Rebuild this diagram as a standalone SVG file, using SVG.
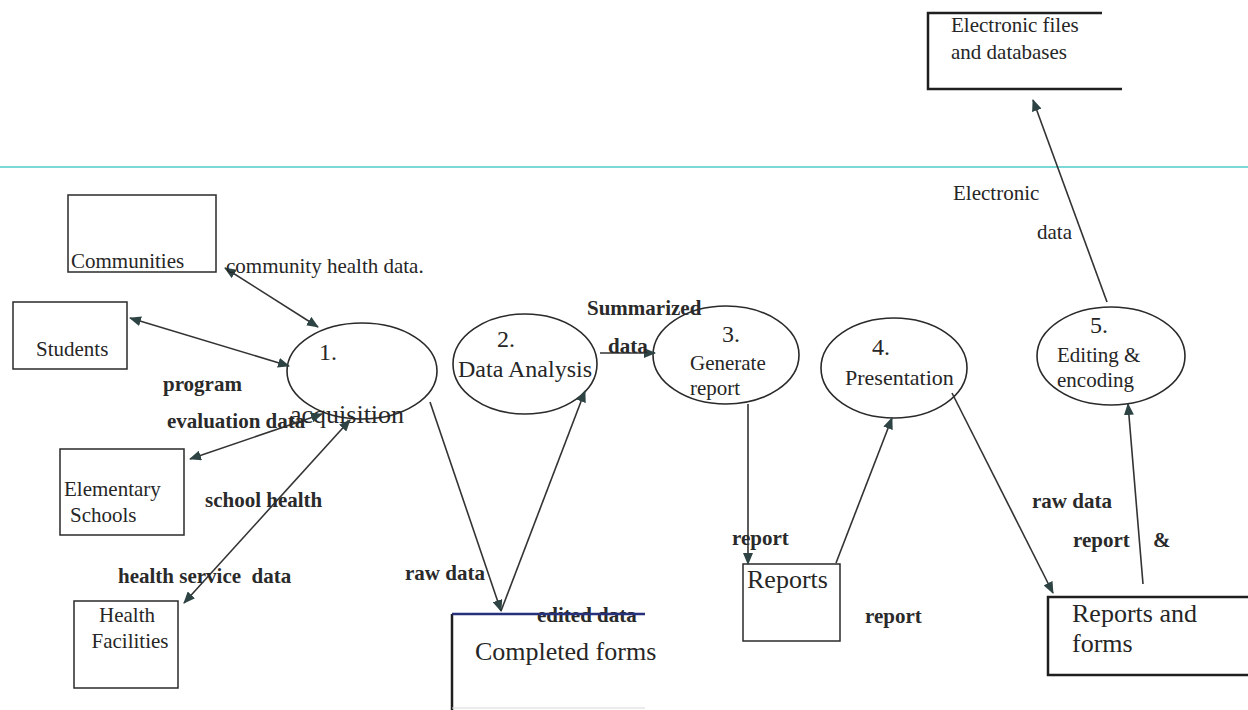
<svg xmlns="http://www.w3.org/2000/svg" width="1248" height="710" viewBox="0 0 1248 710">
  <style>
    .box { fill: none; stroke: #2a2a2a; stroke-width: 1.5; }
    .proc { fill: none; stroke: #2a2a2a; stroke-width: 1.6; }
    text { font-family: 'Liberation Serif', 'DejaVu Serif', serif; }
    .t { font-weight: normal; fill: #262626; }
    .lbl { font-weight: bold; font-size: 21px; fill: #2a2a2a; }
    .flow { fill: none; stroke: #333; stroke-width: 1.6; }
  </style>
  <defs>
    <marker id="ah" viewBox="0 0 12 10" refX="11" refY="5" markerWidth="12" markerHeight="10" markerUnits="userSpaceOnUse" orient="auto-start-reverse">
      <path d="M0,0 L12,5 L0,10 Z" fill="#2e4444"/>
    </marker>
  </defs>

  <rect width="1248" height="710" fill="#ffffff"/>

  <!-- page divider -->
  <line x1="0" y1="167" x2="1248" y2="167" stroke="#7ad9d6" stroke-width="2"/>

  <!-- external entities -->
  <g id="communities">
    <rect class="box" x="68" y="195" width="148" height="77"/>
    <text class="t" x="71" y="268" font-size="21">Communities</text>
  </g>
  <g id="students">
    <rect class="box" x="13" y="302" width="114" height="67"/>
    <text class="t" x="36" y="356" font-size="21">Students</text>
  </g>
  <g id="elementary-schools">
    <rect class="box" x="60" y="449" width="124" height="86"/>
    <text class="t" x="64" y="496" font-size="21">Elementary</text>
    <text class="t" x="70" y="522" font-size="21">Schools</text>
  </g>
  <g id="health-facilities">
    <rect class="box" x="74" y="601" width="104" height="87"/>
    <text class="t" x="127" y="622" font-size="21" text-anchor="middle">Health</text>
    <text class="t" x="130" y="648" font-size="21" text-anchor="middle">Facilities</text>
  </g>

  <!-- processes -->
  <g id="p1-acquisition">
    <ellipse class="proc" cx="362" cy="371" rx="75" ry="48"/>
    <text class="t" x="319" y="360" font-size="24">1.</text>
    <text class="t" x="290" y="423" font-size="26">acquisition</text>
  </g>
  <g id="p2-data-analysis">
    <ellipse class="proc" cx="525" cy="364" rx="72" ry="50"/>
    <text class="t" x="497" y="347" font-size="24">2.</text>
    <text class="t" x="458" y="377" font-size="24">Data Analysis</text>
  </g>
  <g id="p3-generate-report">
    <ellipse class="proc" cx="726" cy="355" rx="73" ry="49"/>
    <text class="t" x="722" y="342" font-size="24">3.</text>
    <text class="t" x="690" y="370" font-size="21">Generate</text>
    <text class="t" x="690" y="395" font-size="21">report</text>
  </g>
  <g id="p4-presentation">
    <ellipse class="proc" cx="894" cy="368" rx="73" ry="50"/>
    <text class="t" x="872" y="355" font-size="24">4.</text>
    <text class="t" x="845" y="385" font-size="22">Presentation</text>
  </g>
  <g id="p5-editing-encoding">
    <ellipse class="proc" cx="1111" cy="356" rx="74" ry="49"/>
    <text class="t" x="1090" y="333" font-size="24">5.</text>
    <text class="t" x="1057" y="362" font-size="21">Editing &amp;</text>
    <text class="t" x="1057" y="387" font-size="21">encoding</text>
  </g>

  <!-- data stores -->
  <g id="store-completed-forms">
    <path d="M452,614 L452,710" stroke="#1f1f1f" stroke-width="2.5" fill="none"/>
    <path d="M452,708 L645,708" stroke="#d8d8d8" stroke-width="1" fill="none"/>
    <text class="lbl" x="537" y="622">edited data</text>
    <path d="M452,614 L645,614" stroke="#27307a" stroke-width="2.5" fill="none"/>
    <text class="t" x="475" y="660" font-size="26">Completed forms</text>
  </g>
  <g id="store-reports">
    <rect class="box" x="743" y="564" width="97" height="77"/>
    <text class="t" x="747" y="588" font-size="26">Reports</text>
  </g>
  <g id="store-reports-forms">
    <path d="M1248,597 L1048,597 L1048,675 L1248,675" stroke="#1f1f1f" stroke-width="2.5" fill="none"/>
    <text class="t" x="1072" y="622" font-size="26">Reports and</text>
    <text class="t" x="1072" y="652" font-size="26">forms</text>
  </g>
  <g id="store-electronic">
    <path d="M1102,13 L928,13 L928,89 L1122,89" stroke="#1f1f1f" stroke-width="2.5" fill="none"/>
    <text class="t" x="951" y="32" font-size="21">Electronic files</text>
    <text class="t" x="951" y="59" font-size="21">and databases</text>
  </g>

  <!-- data flows -->
  <g id="connectors">
    <line class="flow" x1="225" y1="268" x2="318" y2="327" marker-start="url(#ah)" marker-end="url(#ah)"/>
    <line class="flow" x1="130" y1="318" x2="289" y2="366" marker-start="url(#ah)" marker-end="url(#ah)"/>
    <line class="flow" x1="190" y1="459" x2="322" y2="414" marker-start="url(#ah)" marker-end="url(#ah)"/>
    <line class="flow" x1="184" y1="603" x2="350" y2="420" marker-start="url(#ah)" marker-end="url(#ah)"/>
    <line class="flow" x1="430" y1="402" x2="501" y2="611" marker-end="url(#ah)"/>
    <line class="flow" x1="501" y1="611" x2="585" y2="391" marker-end="url(#ah)"/>
    <line class="flow" x1="600" y1="353" x2="655" y2="353" marker-end="url(#ah)"/>
    <line class="flow" x1="748" y1="404" x2="748" y2="564" marker-end="url(#ah)"/>
    <line class="flow" x1="836" y1="563" x2="892" y2="418" marker-end="url(#ah)"/>
    <line class="flow" x1="952" y1="393" x2="1053" y2="593" marker-end="url(#ah)"/>
    <line class="flow" x1="1143" y1="584" x2="1128" y2="404" marker-end="url(#ah)"/>
    <line class="flow" x1="1107" y1="302" x2="1033" y2="100" marker-end="url(#ah)"/>
  </g>

  <!-- flow labels -->
  <g id="flow-labels">
    <text class="t" x="226" y="273" font-size="21">community health data.</text>
    <text class="lbl" x="163" y="391">program</text>
    <text class="lbl" x="167" y="428">evaluation data</text>
    <text class="lbl" x="205" y="507">school health</text>
    <text class="lbl" x="118" y="583" xml:space="preserve">health service  data</text>
    <text class="lbl" x="405" y="580">raw data</text>
    <text class="lbl" x="587" y="315">Summarized</text>
    <text class="lbl" x="608" y="353">data</text>
    <text class="lbl" x="732" y="545">report</text>
    <text class="lbl" x="865" y="623">report</text>
    <text class="lbl" x="1032" y="508">raw data</text>
    <text class="lbl" x="1073" y="547">report</text>
    <text class="lbl" x="1153" y="547">&amp;</text>
    <text class="t" x="953" y="200" font-size="21">Electronic</text>
    <text class="t" x="1037" y="239" font-size="21">data</text>
  </g>
</svg>
